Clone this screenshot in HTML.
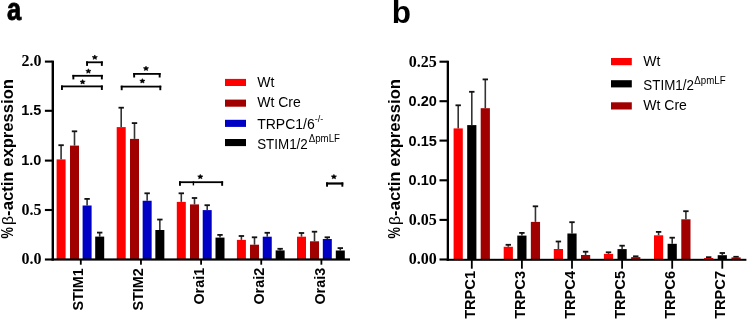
<!DOCTYPE html>
<html><head><meta charset="utf-8"><style>
html,body{margin:0;padding:0;background:#fff;width:747px;height:320px;overflow:hidden}
svg{display:block;will-change:transform}
text{fill:#000}
</style></head><body>
<svg width="747" height="320" viewBox="0 0 747 320" shape-rendering="auto">
<line x1="61.10" y1="159.40" x2="61.10" y2="145.20" stroke="#333" stroke-width="1.6"/>
<rect x="58.40" y="144.30" width="5.40" height="1.80" fill="#111"/>
<rect x="56.60" y="159.40" width="9.00" height="100.10" fill="#ff0000"/>
<line x1="74.50" y1="145.60" x2="74.50" y2="131.30" stroke="#333" stroke-width="1.6"/>
<rect x="71.80" y="130.40" width="5.40" height="1.80" fill="#111"/>
<rect x="70.00" y="145.60" width="9.00" height="113.90" fill="#a00000"/>
<line x1="87.10" y1="205.50" x2="87.10" y2="198.90" stroke="#333" stroke-width="1.6"/>
<rect x="84.40" y="198.00" width="5.40" height="1.80" fill="#111"/>
<rect x="82.60" y="205.50" width="9.00" height="54.00" fill="#0000c4"/>
<line x1="99.70" y1="236.60" x2="99.70" y2="232.60" stroke="#333" stroke-width="1.6"/>
<rect x="97.00" y="231.70" width="5.40" height="1.80" fill="#111"/>
<rect x="95.20" y="236.60" width="9.00" height="22.90" fill="#000000"/>
<line x1="121.20" y1="127.10" x2="121.20" y2="107.70" stroke="#333" stroke-width="1.6"/>
<rect x="118.50" y="106.80" width="5.40" height="1.80" fill="#111"/>
<rect x="116.70" y="127.10" width="9.00" height="132.40" fill="#ff0000"/>
<line x1="134.50" y1="138.90" x2="134.50" y2="123.10" stroke="#333" stroke-width="1.6"/>
<rect x="131.80" y="122.20" width="5.40" height="1.80" fill="#111"/>
<rect x="130.00" y="138.90" width="9.00" height="120.60" fill="#a00000"/>
<line x1="147.15" y1="200.75" x2="147.15" y2="193.30" stroke="#333" stroke-width="1.6"/>
<rect x="144.45" y="192.40" width="5.40" height="1.80" fill="#111"/>
<rect x="142.65" y="200.75" width="9.00" height="58.75" fill="#0000c4"/>
<line x1="159.85" y1="230.00" x2="159.85" y2="219.55" stroke="#333" stroke-width="1.6"/>
<rect x="157.15" y="218.65" width="5.40" height="1.80" fill="#111"/>
<rect x="155.35" y="230.00" width="9.00" height="29.50" fill="#000000"/>
<line x1="181.30" y1="201.90" x2="181.30" y2="193.30" stroke="#333" stroke-width="1.6"/>
<rect x="178.60" y="192.40" width="5.40" height="1.80" fill="#111"/>
<rect x="176.80" y="201.90" width="9.00" height="57.60" fill="#ff0000"/>
<line x1="194.50" y1="204.40" x2="194.50" y2="198.00" stroke="#333" stroke-width="1.6"/>
<rect x="191.80" y="197.10" width="5.40" height="1.80" fill="#111"/>
<rect x="190.00" y="204.40" width="9.00" height="55.10" fill="#a00000"/>
<line x1="207.20" y1="210.10" x2="207.20" y2="205.20" stroke="#333" stroke-width="1.6"/>
<rect x="204.50" y="204.30" width="5.40" height="1.80" fill="#111"/>
<rect x="202.70" y="210.10" width="9.00" height="49.40" fill="#0000c4"/>
<line x1="220.00" y1="237.60" x2="220.00" y2="234.90" stroke="#333" stroke-width="1.6"/>
<rect x="217.30" y="234.00" width="5.40" height="1.80" fill="#111"/>
<rect x="215.50" y="237.60" width="9.00" height="21.90" fill="#000000"/>
<line x1="241.40" y1="239.90" x2="241.40" y2="236.00" stroke="#333" stroke-width="1.6"/>
<rect x="238.70" y="235.10" width="5.40" height="1.80" fill="#111"/>
<rect x="236.90" y="239.90" width="9.00" height="19.60" fill="#ff0000"/>
<line x1="254.50" y1="244.70" x2="254.50" y2="237.30" stroke="#333" stroke-width="1.6"/>
<rect x="251.80" y="236.40" width="5.40" height="1.80" fill="#111"/>
<rect x="250.00" y="244.70" width="9.00" height="14.80" fill="#a00000"/>
<line x1="267.25" y1="236.70" x2="267.25" y2="232.80" stroke="#333" stroke-width="1.6"/>
<rect x="264.55" y="231.90" width="5.40" height="1.80" fill="#111"/>
<rect x="262.75" y="236.70" width="9.00" height="22.80" fill="#0000c4"/>
<line x1="280.15" y1="250.40" x2="280.15" y2="248.80" stroke="#333" stroke-width="1.6"/>
<rect x="277.45" y="247.90" width="5.40" height="1.80" fill="#111"/>
<rect x="275.65" y="250.40" width="9.00" height="9.10" fill="#000000"/>
<line x1="301.50" y1="236.70" x2="301.50" y2="233.00" stroke="#333" stroke-width="1.6"/>
<rect x="298.80" y="232.10" width="5.40" height="1.80" fill="#111"/>
<rect x="297.00" y="236.70" width="9.00" height="22.80" fill="#ff0000"/>
<line x1="314.50" y1="241.30" x2="314.50" y2="231.70" stroke="#333" stroke-width="1.6"/>
<rect x="311.80" y="230.80" width="5.40" height="1.80" fill="#111"/>
<rect x="310.00" y="241.30" width="9.00" height="18.20" fill="#a00000"/>
<line x1="327.30" y1="239.00" x2="327.30" y2="237.30" stroke="#333" stroke-width="1.6"/>
<rect x="324.60" y="236.40" width="5.40" height="1.80" fill="#111"/>
<rect x="322.80" y="239.00" width="9.00" height="20.50" fill="#0000c4"/>
<line x1="340.30" y1="250.50" x2="340.30" y2="248.10" stroke="#333" stroke-width="1.6"/>
<rect x="337.60" y="247.20" width="5.40" height="1.80" fill="#111"/>
<rect x="335.80" y="250.50" width="9.00" height="9.00" fill="#000000"/>
<rect x="51.60" y="60.60" width="2.40" height="200.00" fill="#000"/>
<rect x="51.60" y="258.40" width="298.40" height="2.20" fill="#000"/>
<rect x="44.90" y="60.55" width="7.50" height="2.10" fill="#000"/>
<rect x="44.90" y="109.75" width="7.50" height="2.10" fill="#000"/>
<rect x="44.90" y="159.55" width="7.50" height="2.10" fill="#000"/>
<rect x="44.90" y="208.95" width="7.50" height="2.10" fill="#000"/>
<rect x="44.90" y="258.45" width="7.50" height="2.10" fill="#000"/>
<rect x="79.90" y="259.50" width="1.80" height="5.20" fill="#000"/>
<rect x="140.05" y="259.50" width="1.80" height="5.20" fill="#000"/>
<rect x="200.20" y="259.50" width="1.80" height="5.20" fill="#000"/>
<rect x="260.35" y="259.50" width="1.80" height="5.20" fill="#000"/>
<rect x="320.50" y="259.50" width="1.80" height="5.20" fill="#000"/>
<text x="41.40" y="66.10" font-family="'Liberation Serif', sans-serif" font-size="16" font-weight="bold" text-anchor="end" >2.0</text>
<text x="41.40" y="115.00" font-family="'Liberation Sans', sans-serif" font-size="14.5" font-weight="bold" text-anchor="end" >1.5</text>
<text x="41.40" y="164.80" font-family="'Liberation Sans', sans-serif" font-size="14.5" font-weight="bold" text-anchor="end" >1.0</text>
<text x="41.40" y="214.50" font-family="'Liberation Serif', sans-serif" font-size="16" font-weight="bold" text-anchor="end" >0.5</text>
<text x="41.40" y="264.00" font-family="'Liberation Serif', sans-serif" font-size="16" font-weight="bold" text-anchor="end" >0.0</text>
<text transform="translate(83.30,268.20) rotate(-90)" font-family="'Liberation Sans', sans-serif" font-size="14.4" font-weight="bold" text-anchor="end" >STIM1</text>
<text transform="translate(143.45,268.20) rotate(-90)" font-family="'Liberation Sans', sans-serif" font-size="14.4" font-weight="bold" text-anchor="end" >STIM2</text>
<text transform="translate(204.20,267.80) rotate(-90)" font-family="'Liberation Sans', sans-serif" font-size="14.4" font-weight="bold" text-anchor="end" >Orai1</text>
<text transform="translate(264.35,267.80) rotate(-90)" font-family="'Liberation Sans', sans-serif" font-size="14.4" font-weight="bold" text-anchor="end" >Orai2</text>
<text transform="translate(324.50,267.80) rotate(-90)" font-family="'Liberation Sans', sans-serif" font-size="14.4" font-weight="bold" text-anchor="end" >Orai3</text>
<text transform="translate(13.00,79.00) rotate(-90)" font-family="'Liberation Sans', sans-serif" font-size="16.65" font-weight="bold" text-anchor="end" >-actin expression</text>
<text transform="translate(13.00,225.00) rotate(-90) scale(1.05,1)" font-family="'Liberation Sans', sans-serif" font-size="15" font-weight="normal">&#946;</text>
<text transform="translate(13.00,238.60) rotate(-90) scale(0.8,1)" font-family="'Liberation Sans', sans-serif" font-size="16" font-weight="bold">%</text>
<text x="0.00" y="0.00" font-family="'Liberation Sans', sans-serif" font-size="31" font-weight="bold" text-anchor="start" transform="translate(7.0,19.8) scale(0.82,1)" stroke="#000" stroke-width="0.9">a</text>
<text x="391.80" y="23.40" font-family="'Liberation Sans', sans-serif" font-size="31.5" font-weight="bold" text-anchor="start" >b</text>
<rect x="86.10" y="61.40" width="16.70" height="1.80" fill="#000"/>
<rect x="86.10" y="61.40" width="1.90" height="4.50" fill="#000"/>
<rect x="100.90" y="61.40" width="1.90" height="4.50" fill="#000"/>
<polygon points="94.80,54.98 95.56,56.47 97.42,56.65 96.04,57.75 96.42,59.36 94.80,58.54 93.18,59.36 93.56,57.75 92.18,56.65 94.04,56.47" fill="#000" stroke="#000" stroke-width="0.6" stroke-linejoin="round"/>
<rect x="72.40" y="74.90" width="30.40" height="1.80" fill="#000"/>
<rect x="72.40" y="74.90" width="1.90" height="4.50" fill="#000"/>
<rect x="100.90" y="74.90" width="1.90" height="4.50" fill="#000"/>
<polygon points="88.40,68.78 89.16,70.27 91.02,70.45 89.64,71.55 90.02,73.16 88.40,72.34 86.78,73.16 87.16,71.55 85.78,70.45 87.64,70.27" fill="#000" stroke="#000" stroke-width="0.6" stroke-linejoin="round"/>
<rect x="61.00" y="85.50" width="41.80" height="1.80" fill="#000"/>
<rect x="61.00" y="85.50" width="1.90" height="4.50" fill="#000"/>
<rect x="100.90" y="85.50" width="1.90" height="4.50" fill="#000"/>
<polygon points="82.60,79.58 83.36,81.07 85.22,81.25 83.84,82.35 84.22,83.96 82.60,83.14 80.98,83.96 81.36,82.35 79.98,81.25 81.84,81.07" fill="#000" stroke="#000" stroke-width="0.6" stroke-linejoin="round"/>
<rect x="133.20" y="73.00" width="27.40" height="1.80" fill="#000"/>
<rect x="133.20" y="73.00" width="1.90" height="4.50" fill="#000"/>
<rect x="158.70" y="73.00" width="1.90" height="4.50" fill="#000"/>
<polygon points="146.00,66.13 146.76,67.62 148.62,67.80 147.24,68.90 147.62,70.51 146.00,69.69 144.38,70.51 144.76,68.90 143.38,67.80 145.24,67.62" fill="#000" stroke="#000" stroke-width="0.6" stroke-linejoin="round"/>
<rect x="120.75" y="85.70" width="40.50" height="1.80" fill="#000"/>
<rect x="120.75" y="85.70" width="1.90" height="4.50" fill="#000"/>
<rect x="159.35" y="85.70" width="1.90" height="4.50" fill="#000"/>
<polygon points="142.40,78.63 143.16,80.12 145.02,80.30 143.64,81.40 144.02,83.01 142.40,82.19 140.78,83.01 141.16,81.40 139.78,80.30 141.64,80.12" fill="#000" stroke="#000" stroke-width="0.6" stroke-linejoin="round"/>
<rect x="179.00" y="181.30" width="44.10" height="1.80" fill="#000"/>
<rect x="179.00" y="181.30" width="1.90" height="4.50" fill="#000"/>
<rect x="221.20" y="181.30" width="1.90" height="4.50" fill="#000"/>
<rect x="192.70" y="181.30" width="1.40" height="4.10" fill="#000"/>
<polygon points="200.30,174.38 201.06,175.87 202.92,176.05 201.54,177.15 201.92,178.76 200.30,177.94 198.68,178.76 199.06,177.15 197.68,176.05 199.54,175.87" fill="#000" stroke="#000" stroke-width="0.6" stroke-linejoin="round"/>
<rect x="326.10" y="182.40" width="17.20" height="2.20" fill="#000"/>
<rect x="326.10" y="182.40" width="1.90" height="4.30" fill="#000"/>
<rect x="341.40" y="182.40" width="1.90" height="4.30" fill="#000"/>
<polygon points="333.90,174.38 334.66,175.87 336.52,176.05 335.14,177.15 335.52,178.76 333.90,177.94 332.28,178.76 332.66,177.15 331.28,176.05 333.14,175.87" fill="#000" stroke="#000" stroke-width="0.6" stroke-linejoin="round"/>
<text x="257.20" y="148.50" font-family="'Liberation Sans', sans-serif" font-size="14" font-weight="normal" text-anchor="start" textLength="50.6" lengthAdjust="spacingAndGlyphs">STIM1/2</text>
<text x="308.70" y="142.40" font-family="'Liberation Sans', sans-serif" font-size="10.3" font-weight="normal" text-anchor="start" textLength="31.3" lengthAdjust="spacingAndGlyphs">&#916;pmLF</text>
<rect x="225.00" y="78.90" width="21.00" height="7.10" fill="#ff0000"/>
<text x="257.20" y="86.50" font-family="'Liberation Sans', sans-serif" font-size="14" font-weight="normal" text-anchor="start" >Wt</text>
<rect x="225.00" y="99.60" width="21.00" height="7.10" fill="#a00000"/>
<text x="257.20" y="106.70" font-family="'Liberation Sans', sans-serif" font-size="14" font-weight="normal" text-anchor="start" >Wt Cre</text>
<rect x="225.00" y="119.80" width="21.00" height="7.10" fill="#0000c4"/>
<text x="257.20" y="129.40" font-family="'Liberation Sans', sans-serif" font-size="14" font-weight="normal" text-anchor="start" >TRPC1/6<tspan font-size="9" dy="-7">-/-</tspan></text>
<rect x="225.00" y="139.00" width="21.00" height="7.10" fill="#000000"/>
<text x="257.20" y="148.50" font-family="'Liberation Sans', sans-serif" font-size="14" font-weight="normal" text-anchor="start" ></text>
<line x1="458.20" y1="128.40" x2="458.20" y2="105.30" stroke="#333" stroke-width="1.6"/>
<rect x="455.50" y="104.40" width="5.40" height="1.80" fill="#111"/>
<rect x="453.60" y="128.40" width="9.20" height="131.40" fill="#ff0000"/>
<line x1="471.80" y1="125.10" x2="471.80" y2="91.80" stroke="#333" stroke-width="1.6"/>
<rect x="469.10" y="90.90" width="5.40" height="1.80" fill="#111"/>
<rect x="467.20" y="125.10" width="9.20" height="134.70" fill="#000000"/>
<line x1="485.30" y1="108.20" x2="485.30" y2="79.40" stroke="#333" stroke-width="1.6"/>
<rect x="482.60" y="78.50" width="5.40" height="1.80" fill="#111"/>
<rect x="480.70" y="108.20" width="9.20" height="151.60" fill="#a00000"/>
<line x1="508.30" y1="246.80" x2="508.30" y2="244.80" stroke="#333" stroke-width="1.6"/>
<rect x="505.60" y="243.90" width="5.40" height="1.80" fill="#111"/>
<rect x="503.70" y="246.80" width="9.20" height="13.00" fill="#ff0000"/>
<line x1="521.90" y1="235.60" x2="521.90" y2="232.90" stroke="#333" stroke-width="1.6"/>
<rect x="519.20" y="232.00" width="5.40" height="1.80" fill="#111"/>
<rect x="517.30" y="235.60" width="9.20" height="24.20" fill="#000000"/>
<line x1="535.45" y1="221.90" x2="535.45" y2="206.30" stroke="#333" stroke-width="1.6"/>
<rect x="532.75" y="205.40" width="5.40" height="1.80" fill="#111"/>
<rect x="530.85" y="221.90" width="9.20" height="37.90" fill="#a00000"/>
<line x1="558.40" y1="249.00" x2="558.40" y2="241.50" stroke="#333" stroke-width="1.6"/>
<rect x="555.70" y="240.60" width="5.40" height="1.80" fill="#111"/>
<rect x="553.80" y="249.00" width="9.20" height="10.80" fill="#ff0000"/>
<line x1="572.00" y1="233.50" x2="572.00" y2="222.20" stroke="#333" stroke-width="1.6"/>
<rect x="569.30" y="221.30" width="5.40" height="1.80" fill="#111"/>
<rect x="567.40" y="233.50" width="9.20" height="26.30" fill="#000000"/>
<line x1="585.60" y1="255.00" x2="585.60" y2="251.70" stroke="#333" stroke-width="1.6"/>
<rect x="582.90" y="250.80" width="5.40" height="1.80" fill="#111"/>
<rect x="581.00" y="255.00" width="9.20" height="4.80" fill="#a00000"/>
<line x1="608.50" y1="253.90" x2="608.50" y2="252.30" stroke="#333" stroke-width="1.6"/>
<rect x="605.80" y="251.40" width="5.40" height="1.80" fill="#111"/>
<rect x="603.90" y="253.90" width="9.20" height="5.90" fill="#ff0000"/>
<line x1="622.10" y1="249.10" x2="622.10" y2="245.70" stroke="#333" stroke-width="1.6"/>
<rect x="619.40" y="244.80" width="5.40" height="1.80" fill="#111"/>
<rect x="617.50" y="249.10" width="9.20" height="10.70" fill="#000000"/>
<line x1="635.75" y1="257.10" x2="635.75" y2="256.30" stroke="#333" stroke-width="1.6"/>
<rect x="633.05" y="255.40" width="5.40" height="1.80" fill="#111"/>
<rect x="631.15" y="257.10" width="9.20" height="2.70" fill="#a00000"/>
<line x1="658.60" y1="235.30" x2="658.60" y2="231.90" stroke="#333" stroke-width="1.6"/>
<rect x="655.90" y="231.00" width="5.40" height="1.80" fill="#111"/>
<rect x="654.00" y="235.30" width="9.20" height="24.50" fill="#ff0000"/>
<line x1="672.20" y1="243.80" x2="672.20" y2="237.70" stroke="#333" stroke-width="1.6"/>
<rect x="669.50" y="236.80" width="5.40" height="1.80" fill="#111"/>
<rect x="667.60" y="243.80" width="9.20" height="16.00" fill="#000000"/>
<line x1="685.90" y1="219.30" x2="685.90" y2="211.20" stroke="#333" stroke-width="1.6"/>
<rect x="683.20" y="210.30" width="5.40" height="1.80" fill="#111"/>
<rect x="681.30" y="219.30" width="9.20" height="40.50" fill="#a00000"/>
<line x1="708.70" y1="258.00" x2="708.70" y2="257.20" stroke="#333" stroke-width="1.6"/>
<rect x="706.00" y="256.30" width="5.40" height="1.80" fill="#111"/>
<rect x="704.10" y="258.00" width="9.20" height="1.80" fill="#ff0000"/>
<line x1="722.30" y1="255.20" x2="722.30" y2="253.00" stroke="#333" stroke-width="1.6"/>
<rect x="719.60" y="252.10" width="5.40" height="1.80" fill="#111"/>
<rect x="717.70" y="255.20" width="9.20" height="4.60" fill="#000000"/>
<line x1="736.05" y1="257.40" x2="736.05" y2="256.80" stroke="#333" stroke-width="1.6"/>
<rect x="733.35" y="255.90" width="5.40" height="1.80" fill="#111"/>
<rect x="731.45" y="257.40" width="9.20" height="2.40" fill="#a00000"/>
<rect x="446.70" y="60.70" width="2.30" height="200.10" fill="#000"/>
<rect x="446.70" y="258.80" width="299.70" height="2.00" fill="#000"/>
<rect x="439.50" y="60.65" width="8.00" height="2.10" fill="#000"/>
<text x="436.80" y="66.60" font-family="'Liberation Serif', sans-serif" font-size="16" font-weight="bold" text-anchor="end" >0.25</text>
<rect x="439.50" y="100.15" width="8.00" height="2.10" fill="#000"/>
<text x="436.80" y="106.10" font-family="'Liberation Sans', sans-serif" font-size="14.5" font-weight="bold" text-anchor="end" >0.20</text>
<rect x="439.50" y="139.55" width="8.00" height="2.10" fill="#000"/>
<text x="436.80" y="145.50" font-family="'Liberation Sans', sans-serif" font-size="14.5" font-weight="bold" text-anchor="end" >0.15</text>
<rect x="439.50" y="179.25" width="8.00" height="2.10" fill="#000"/>
<text x="436.80" y="185.20" font-family="'Liberation Sans', sans-serif" font-size="14.5" font-weight="bold" text-anchor="end" >0.10</text>
<rect x="439.50" y="218.85" width="8.00" height="2.10" fill="#000"/>
<text x="436.80" y="224.80" font-family="'Liberation Serif', sans-serif" font-size="16" font-weight="bold" text-anchor="end" >0.05</text>
<rect x="439.50" y="258.45" width="8.00" height="2.10" fill="#000"/>
<text x="436.80" y="264.40" font-family="'Liberation Serif', sans-serif" font-size="16" font-weight="bold" text-anchor="end" >0.00</text>
<rect x="470.90" y="259.80" width="1.80" height="8.90" fill="#000"/>
<rect x="521.00" y="259.80" width="1.80" height="8.90" fill="#000"/>
<rect x="571.10" y="259.80" width="1.80" height="8.90" fill="#000"/>
<rect x="621.20" y="259.80" width="1.80" height="8.90" fill="#000"/>
<rect x="671.30" y="259.80" width="1.80" height="8.90" fill="#000"/>
<rect x="721.40" y="259.80" width="1.80" height="8.90" fill="#000"/>
<text transform="translate(474.70,271.00) rotate(-90)" font-family="'Liberation Sans', sans-serif" font-size="14.6" font-weight="bold" text-anchor="end" >TRPC1</text>
<text transform="translate(524.80,271.00) rotate(-90)" font-family="'Liberation Sans', sans-serif" font-size="14.6" font-weight="bold" text-anchor="end" >TRPC3</text>
<text transform="translate(574.90,271.00) rotate(-90)" font-family="'Liberation Sans', sans-serif" font-size="14.6" font-weight="bold" text-anchor="end" >TRPC4</text>
<text transform="translate(625.00,271.00) rotate(-90)" font-family="'Liberation Sans', sans-serif" font-size="14.6" font-weight="bold" text-anchor="end" >TRPC5</text>
<text transform="translate(675.10,271.00) rotate(-90)" font-family="'Liberation Sans', sans-serif" font-size="14.6" font-weight="bold" text-anchor="end" >TRPC6</text>
<text transform="translate(725.20,271.00) rotate(-90)" font-family="'Liberation Sans', sans-serif" font-size="14.6" font-weight="bold" text-anchor="end" >TRPC7</text>
<text transform="translate(400.40,79.00) rotate(-90)" font-family="'Liberation Sans', sans-serif" font-size="16.65" font-weight="bold" text-anchor="end" >-actin expression</text>
<text transform="translate(400.40,225.00) rotate(-90) scale(1.05,1)" font-family="'Liberation Sans', sans-serif" font-size="15" font-weight="normal">&#946;</text>
<text transform="translate(400.40,238.60) rotate(-90) scale(0.8,1)" font-family="'Liberation Sans', sans-serif" font-size="16" font-weight="bold">%</text>
<text x="643.30" y="90.00" font-family="'Liberation Sans', sans-serif" font-size="14" font-weight="normal" text-anchor="start" textLength="50.6" lengthAdjust="spacingAndGlyphs">STIM1/2</text>
<text x="694.30" y="84.20" font-family="'Liberation Sans', sans-serif" font-size="10.3" font-weight="normal" text-anchor="start" textLength="31.3" lengthAdjust="spacingAndGlyphs">&#916;pmLF</text>
<rect x="611.00" y="58.00" width="20.80" height="7.20" fill="#ff0000"/>
<text x="643.30" y="66.10" font-family="'Liberation Sans', sans-serif" font-size="14" font-weight="normal" text-anchor="start" >Wt</text>
<rect x="611.00" y="80.20" width="20.80" height="7.20" fill="#000000"/>
<text x="643.30" y="90.00" font-family="'Liberation Sans', sans-serif" font-size="14" font-weight="normal" text-anchor="start" ></text>
<rect x="611.00" y="102.30" width="20.80" height="7.20" fill="#a00000"/>
<text x="643.30" y="110.00" font-family="'Liberation Sans', sans-serif" font-size="14" font-weight="normal" text-anchor="start" >Wt Cre</text>
</svg>
</body></html>
